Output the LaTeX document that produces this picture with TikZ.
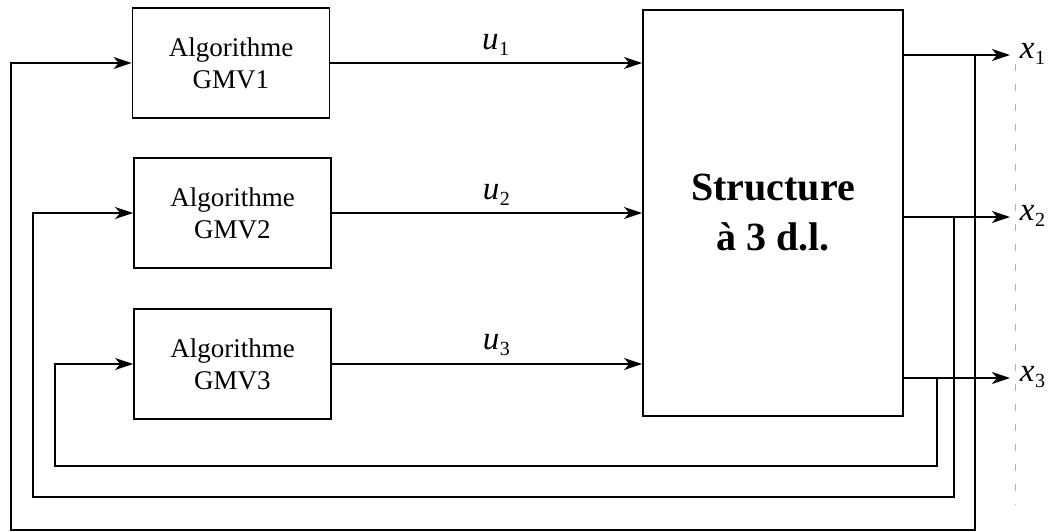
\documentclass[tikz,border=0pt]{standalone}
\usepackage{fontspec}
\setmainfont{Liberation Serif}
\usetikzlibrary{arrows.meta}
\newcommand{\sublab}[2]{\textit{#1}\kern0.5pt\raisebox{-0.4ex}{\fontsize{20}{20}\selectfont #2}}
\begin{document}
\begin{tikzpicture}[x=1pt,y=-1pt,
  line width=1.8pt,
  algbox/.style={draw, line width=1.8pt, minimum width=197pt, minimum height=110pt, align=center, inner sep=0pt, font=\fontsize{27}{32}\selectfont},
  sysbox/.style={draw, line width=1.8pt, minimum width=260pt, minimum height=406pt, align=center, inner sep=0pt, font=\fontsize{40}{50}\selectfont\bfseries},
  arr/.style={-{Stealth[length=18pt,width=12pt,inset=5pt]}},
  lab/.style={inner sep=0pt, font=\fontsize{33}{33}\selectfont}]
\useasboundingbox (0,0) rectangle (1053,531);

\node[algbox] (g1) at (231,63) {Algorithme\\GMV1};
\node[algbox] (g2) at (232.5,213) {Algorithme\\GMV2};
\node[algbox] (g3) at (232.5,364) {Algorithme\\GMV3};
\node[sysbox] (s) at (773,213) {Structure\\à 3 d.l.};

% forward
\draw[arr] (g1.east) -- (g1.east -| s.west) node[lab, pos=0.53, above=7pt] (u1) {\sublab{u}{1}};
\draw[arr] (g2.east) -- (g2.east -| s.west) node[lab, pos=0.53, above=7pt] (u2) {\sublab{u}{2}};
\draw[arr] (g3.east) -- (g3.east -| s.west) node[lab, pos=0.53, above=7pt] (u3) {\sublab{u}{3}};

% outputs
\coordinate (e1) at (1010,55);
\coordinate (e2) at (1010,217);
\coordinate (e3) at (1010,378);
\node[lab, anchor=west] (x1) at (1019,54) {\sublab{x}{1}};
\node[lab, anchor=west] (x2) at (1019,216) {\sublab{x}{2}};
\node[lab, anchor=west] (x3) at (1019,377) {\sublab{x}{3}};
\draw[arr] (s.east |- e1) -- (e1);
\draw[arr] (s.east |- e2) -- (e2);
\draw[arr] (s.east |- e3) -- (e3);

% feedback
\coordinate (t1) at (975,55);
\coordinate (t2) at (954,217);
\coordinate (t3) at (937,378);
\draw[arr] (t1) -- (975,530) -- (11,530) |- (g1.west);
\draw[arr] (t2) -- (954,497) -- (33,497) |- (g2.west);
\draw[arr] (t3) -- (937,466) -- (55,466) |- (g3.west);

% faint scan line
\draw[gray!60, line width=0.6pt, dash pattern=on 7pt off 13pt] (1015,64) -- (1015,505);
\end{tikzpicture}
\end{document}
